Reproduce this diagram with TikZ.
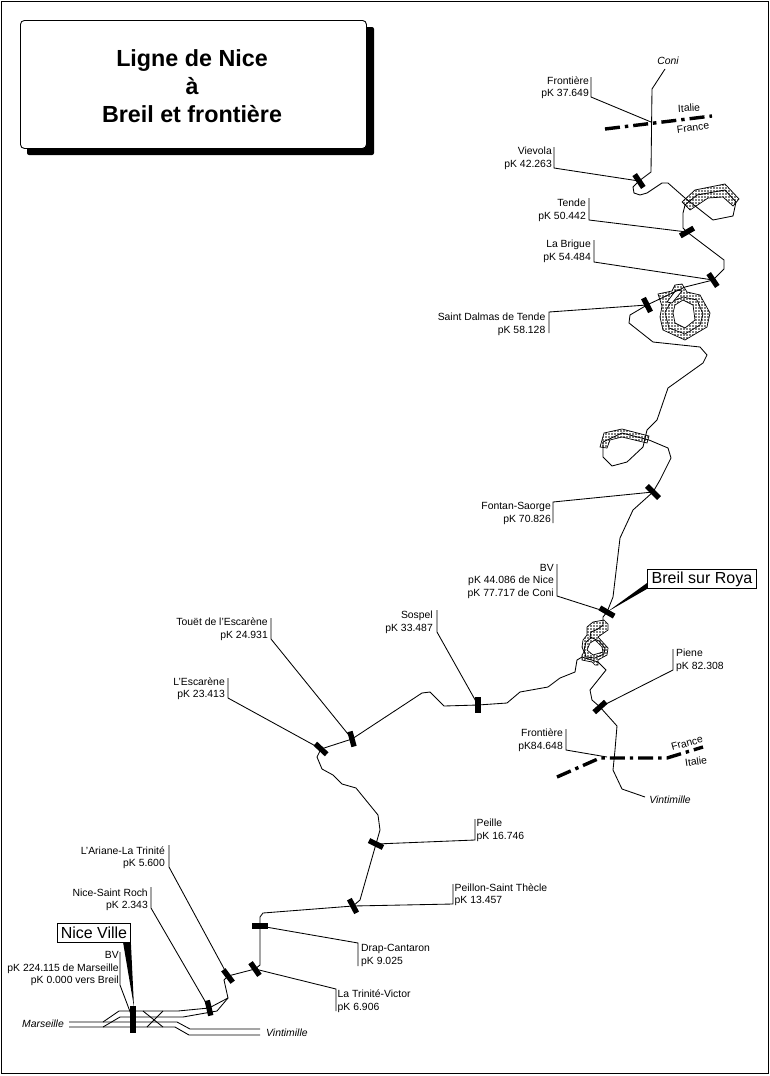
\documentclass[tikz,border=0pt]{standalone}
\usepackage{fontspec}
\setmainfont{Liberation Sans}
\usetikzlibrary{patterns.meta}
\newcommand{\labfont}{\fontsize{10.4}{12.6}\selectfont}
\newcommand{\brk}[4]{\coordinate (#1t) at (#2,#3); \coordinate (#1b) at (#2,#4);}
\tikzset{
  every path/.style={line join=miter},
  track/.style={draw=black,line width=.85pt},
  leader/.style={draw=black,line width=.85pt},
  tick/.style={fill=black,inner sep=0pt,minimum width=15.5pt,minimum height=5.4pt},
  labr/.style={anchor=east,inner sep=0pt,align=right,font=\labfont,yshift=-.6pt},
  labl/.style={anchor=west,inner sep=0pt,align=left,font=\labfont,yshift=-.6pt},
  dirn/.style={inner sep=0pt,font=\labfont\itshape},
  ctry/.style={inner sep=0pt,font=\labfont},
  border/.style={draw=black,line width=3.4pt,dash pattern=on 15pt off 5pt on 3.4pt off 5pt},
  tunnel/.style={draw=black,line width=.7pt,even odd rule,pattern={Dots[radius=.8pt,distance=3pt]}},
  tunline/.style={draw=black,line width=.7pt},
  callout/.style={draw=black,fill=white,line width=.9pt,inner sep=0pt,font=\fontsize{16}{18}\selectfont},
  wedge/.style={fill=black}
}
\begin{document}
\begin{tikzpicture}[x=1pt,y=-1pt]
\useasboundingbox (0,0) rectangle (770,1076);
\fill[white] (0,0) rectangle (770,1076);
\draw[line width=.9pt] (1.5,1.5) rectangle (768,1073.5);
% title
\fill[black,rounded corners=2pt] (27,27) rectangle (374,155);
\node[draw=black,fill=white,line width=.9pt,rounded corners=4pt,minimum width=346pt,minimum height=128pt,inner sep=0pt,anchor=north west] (titlebox) at (20,20) {};
\node[inner sep=0pt,align=center,font=\fontsize{23.3}{28}\selectfont\bfseries] (title) at (192,86) {Ligne de Nice\\à\\Breil et frontière};

% ticks
\node[tick,rotate=-56] (viev) at (639,181) {};
\node[tick,rotate=30] (tend) at (687,232) {};
\node[tick,rotate=-56] (brig) at (713,280) {};
\node[tick,rotate=-63] (dalm) at (647,305) {};
\node[tick,rotate=-45,minimum width=17pt] (font) at (653,492) {};
\node[tick,rotate=-30,minimum width=16.5pt] (brei) at (607,612) {};
\node[tick,rotate=42] (pien) at (600,707) {};
\node[tick,rotate=90] (sosp) at (478,705) {};
\node[tick,rotate=-75] (toue) at (352,739) {};
\node[tick,rotate=-43] (esca) at (321,749) {};
\node[tick,rotate=-26] (peil) at (376,844) {};
\node[tick,rotate=-62] (pstt) at (353,906) {};
\node[tick,rotate=0] (drap) at (260,926) {};
\node[tick,rotate=-55] (trin) at (255,969) {};
\node[tick,rotate=-53] (aria) at (228,976) {};
\node[tick,rotate=-77] (roch) at (209,1008) {};
\node[tick,rotate=90,minimum width=27pt,minimum height=6pt] (nice) at (133,1019.5) {};

% free ends
\coordinate (conie) at (665,69);
\coordinate (vinte) at (645,797);
\coordinate (front1) at (651,122);
\coordinate (front2) at (607,757);
\coordinate (mar1) at (69,1022);
\coordinate (mar2) at (69,1027);
\coordinate (vin1) at (260,1029);
\coordinate (vin2) at (260,1035);
\coordinate (junc) at (228,998);

% tunnels (under the track)
\path[tunnel] (682,202) -- (695,190) -- (725,184) -- (739,199) -- (733,206) -- (723,197) -- (708,198) -- (690,210) -- cycle;
\path[tunnel] (658,294) -- (672,291) -- (675,285) -- (682,284) -- (687,292) -- (700,295) -- (710,313) -- (707,327) -- (685,340) -- (663,330) -- (660,317) -- (662,306) -- cycle
  (675,305) -- (683,300) -- (693,305) -- (695,320) -- (685,328) -- (675,323) -- (673,313) -- cycle;
\draw[tunline] (665,312) -- (671,302) -- (683,297) -- (697,300) -- (703,314) -- (700,325) -- (685,334) -- (669,328) -- cycle;
\fill[white,draw=black,line width=.7pt] (676,290) -- (682,291) -- (672,303) -- (667,302) -- cycle;
\path[tunnel] (600,447) -- (604,433) -- (622,429) -- (649,436) -- (647,443) -- (622,437) -- (610,440) -- (607,448) -- cycle;
\path[tunnel] (604,620) -- (608,624) -- (608,630) -- (598,637) -- (608,648) -- (607,655) -- (598,660) -- (598,665) -- (595,665) -- (592,662) -- (582,660) -- (582,655) -- (584,652) -- (582,647) -- (583,640) -- (587,635) -- (587,627) -- (593,622) -- cycle
  (590,643) -- (595,640) -- (602,647) -- (603,652) -- (593,655) -- (587,650) -- cycle;

% track
\draw[track] (conie) -- (652,89) -- (651,172) -- (viev.center) -- (633,187) -- (634,193) -- (640,195) -- (647,193) -- (662,183) -- (668,183) -- (685,198) -- (713,220) -- (733,216) -- (736,202) -- (725,190) -- (697,195) -- (685,205) -- (683,213) -- (683,228) -- (tend.center) -- (724,260) -- (724,269) -- (brig.center) -- (685,287) -- (dalm.center) -- (630,315) -- (629,323) -- (653,342) -- (700,347) -- (707,355) -- (703,363) -- (668,388) -- (657,420) -- (647,430) -- (643,447) -- (627,462) -- (612,466) -- (603,457) -- (603,442) -- (622,433) -- (649,440) -- (668,448) -- (671,458) -- (660,480) -- (font.center) -- (633,510) -- (620,538) -- (613,597) -- (brei.center) -- (603,617) -- (603,625) -- (598,629) -- (591,632) -- (590,637) -- (599,641) -- (605,648) -- (604,654) -- (595,658) -- (586,657) -- (584,650) -- (586,642) -- (592,637);
\draw[track] (582,657) -- (598,662) -- (606,670) -- (590,690) -- (592,700) -- (pien.center) -- (617,726) -- (615,750) -- (613,770) -- (622,789) -- (vinte);
\draw[track] (582,657) -- (577,660) -- (575,672) -- (560,678) -- (548,687) -- (520,692) -- (507,703) -- (sosp.center) -- (444,706) -- (430,692) -- (422,693) -- (toue.center) -- (esca.center) -- (317,757) -- (322,769) -- (333,775) -- (342,784) -- (356,788) -- (378,815) -- (380,830) -- (peil.center) -- (360,900) -- (pstt.center) -- (263,913) -- (260,917) -- (drap.center) -- (260,965) -- (trin.center) -- (aria.center) -- (224,980) -- (junc) -- (roch.center) -- (178,1011) -- (119,1011) -- (103,1022);
\draw[track] (junc) -- (217,1011) -- (183,1017) -- (120,1017) -- (103,1027);
\draw[track] (mar1) -- (177,1022) -- (190,1029) -- (vin1);
\draw[track] (mar2) -- (175,1027) -- (189,1035) -- (vin2);
\draw[track] (143,1011) -- (163,1027);
\draw[track] (163,1011) -- (147,1027);

% borders
\draw[border] (605,129) -- (712,116);
\draw[border] (557,777) -- (600,758) -- (667,758) -- (703,747);
\node[ctry,rotate=3] (it1) at (689,108) {Italie};
\node[ctry,rotate=8] (fr1) at (693,127.5) {France};
\node[ctry,rotate=15] (fr2) at (687,743) {France};
\node[ctry,rotate=8] (it2) at (696,761.5) {Italie};

% direction labels
\node[dirn] (coni) at (668,61) {Coni};
\node[dirn] (vint) at (670,799.5) {Vintimille};
\node[dirn,anchor=east] (mars) at (64,1024) {Marseille};
\node[dirn,anchor=west] (vinw) at (266,1032.5) {Vintimille};

% station labels
\brk{a}{591}{77}{97} \node[labr] (la) at (589,87) {Frontière\\pK 37.649};
\draw[leader] (at) -- (ab) -- (front1);
\brk{b}{554}{147}{168} \node[labr] (lb) at (552,158) {Vievola\\pK 42.263};
\draw[leader] (bt) -- (bb) -- (viev.center);
\brk{c}{589}{198}{220} \node[labr] (lc) at (586,209.5) {Tende\\pK 50.442};
\draw[leader] (ct) -- (cb) -- (tend.center);
\brk{d}{594}{240}{262} \node[labr] (ld) at (591,251) {La Brigue\\pK 54.484};
\draw[leader] (dt) -- (db) -- (brig.center);
\brk{e}{549}{333}{312} \node[labr] (le) at (545.5,323.5) {Saint Dalmas de Tende\\pK 58.128};
\draw[leader] (et) -- (eb) -- (dalm.center);
\brk{f}{553}{523}{502} \node[labr] (lf) at (551,513) {Fontan-Saorge\\pK 70.826};
\draw[leader] (ft) -- (fb) -- (font.center);
\brk{g}{557}{564}{596} \node[labr] (lg) at (554,580.5) {BV\\pK 44.086 de Nice\\pK 77.717 de Coni};
\draw[leader] (gt) -- (gb) -- (brei.center);
\brk{h}{673}{649}{670} \node[labl] (lh) at (676,659.5) {Piene\\pK 82.308};
\draw[leader] (ht) -- (hb) -- (pien.center);
\brk{i}{566}{729}{750} \node[labr] (li) at (563,739.5) {Frontière\\pK84.648};
\draw[leader] (it) -- (ib) -- (front2);
\brk{j}{437}{610}{632} \node[labr] (lj) at (433,622) {Sospel\\pK 33.487};
\draw[leader] (jt) -- (jb) -- (sosp.center);
\brk{k}{271}{618}{639} \node[labr] (lk) at (268,628.5) {Touët de l'Escarène\\pK 24.931};
\draw[leader] (kt) -- (kb) -- (toue.center);
\brk{l}{228}{678}{698} \node[labr] (ll) at (225,688) {L'Escarène\\pK 23.413};
\draw[leader] (lt) -- (lb) -- (esca.center);
\brk{m}{475}{819}{840} \node[labl] (lm) at (476.5,830) {Peille\\pK 16.746};
\draw[leader] (mt) -- (mb) -- (peil.center);
\brk{n}{453}{884}{904} \node[labl] (ln) at (454.5,894) {Peillon-Saint Thècle\\pK 13.457};
\draw[leader] (nt) -- (nb) -- (pstt.center);
\brk{o}{358}{966}{943} \node[labl] (lo) at (361,955) {Drap-Cantaron\\pK 9.025};
\draw[leader] (ot) -- (ob) -- (drap.center);
\brk{p}{336}{1011}{989} \node[labl] (lp) at (337.5,1000.5) {La Trinité-Victor\\pK 6.906};
\draw[leader] (pt) -- (pb) -- (trin.center);
\brk{q}{169}{845}{867} \node[labr] (lq) at (165,857) {L'Ariane-La Trinité\\pK 5.600};
\draw[leader] (qt) -- (qb) -- (aria.center);
\brk{r}{151}{887}{908} \node[labr] (lr) at (148,899) {Nice-Saint Roch\\pK 2.343};
\draw[leader] (rt) -- (rb) -- (roch.center);
\brk{s}{120}{952}{985} \node[labr] (ls) at (119,968) {BV\\pK 224.115 de Marseille\\pK 0.000 vers Breil};
\draw[leader] (st) -- (sb) -- (nice.center);

% callouts
\node[callout,minimum width=109pt,minimum height=19pt,anchor=north west] (breil) at (647,569) {Breil sur Roya};
\node[callout,minimum width=73pt,minimum height=19pt,anchor=north west] (nv) at (57,923) {Nice Ville};
\fill[wedge] (breil.south west) -- (647,583) -- (brei.center) -- cycle;
\fill[wedge] (123,942) -- (nv.south east) -- (134,1007) -- cycle;
\end{tikzpicture}
\end{document}
